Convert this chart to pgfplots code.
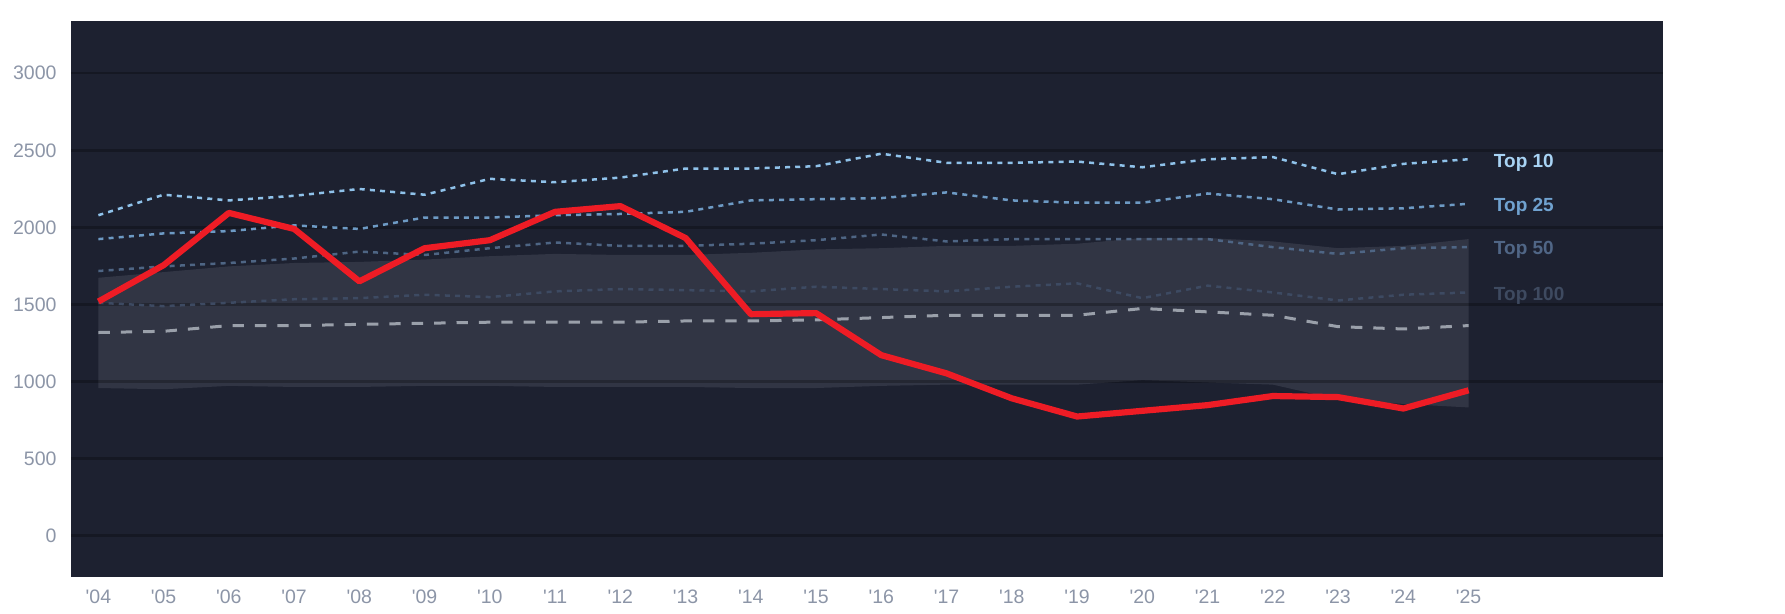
\documentclass[border=0pt]{standalone}
\usepackage{pgfplots}
\pgfplotsset{compat=1.18}
\usepackage{pgfplotstable}
\usepackage{fontspec}
\setmainfont{Liberation Sans}
\definecolor{panel}{HTML}{1D2130}
\definecolor{bandc}{HTML}{313544}
\definecolor{tickc}{HTML}{8C95A7}
\definecolor{redc}{HTML}{EE1C25}
\definecolor{ctena}{HTML}{8FC2EA}
\definecolor{ctwentyfive}{HTML}{6D9AC4}
\definecolor{cfifty}{HTML}{4E6584}
\definecolor{chundred}{HTML}{3D4A62}
\definecolor{medc}{HTML}{9AA0AA}
\definecolor{ltena}{HTML}{A8D3F4}
\definecolor{ltwentyfive}{HTML}{70A2D0}
\definecolor{lfifty}{HTML}{506686}
\definecolor{lhundred}{HTML}{3E4A60}
\newcommand{\q}{\textquotesingle}
\tikzset{
  dotline/.style={line width=1.25pt, dash pattern=on 2.5pt off 2.6pt},
  endlabel/.style={pos=1, anchor=west, xshift=8.75pt, yshift=-1.6pt, font=\fontsize{9.5}{11}\selectfont\bfseries},
}

\pgfplotstableread{
year red  t10  t25  t50  t100 med
2004 1519 2079 1924 1717 1511 1318
2005 1755 2212 1961 1747 1489 1326
2006 2094 2175 1976 1769 1511 1363
2007 1990 2205 2013 1798 1534 1363
2008 1650 2249 1990 1843 1541 1371
2009 1865 2212 2064 1821 1563 1378
2010 1917 2315 2064 1865 1548 1385
2011 2101 2293 2079 1902 1585 1385
2012 2138 2323 2087 1880 1600 1385
2013 1931 2382 2101 1880 1593 1393
2014 1437 2382 2175 1894 1585 1393
2015 1444 2397 2183 1917 1615 1400
2016 1171 2478 2190 1954 1600 1415
2017 1053 2419 2227 1909 1585 1430
2018 891  2419 2175 1924 1615 1430
2019 773  2427 2160 1924 1637 1430
2020 810  2390 2160 1924 1541 1474
2021 847  2442 2220 1924 1622 1452
2022 906  2456 2183 1872 1578 1430
2023 899  2345 2116 1828 1526 1356
2024 825  2412 2124 1865 1563 1341
2025 943  2442 2153 1872 1578 1363
}\data

\begin{document}
\begin{tikzpicture}
\begin{axis}[
  scale only axis,
  width=796pt, height=277.85pt,
  xmin=2003.58, xmax=2027.98,
  ymin=-266, ymax=3339,
  axis background/.style={fill=panel},
  axis line style={draw=none},
  tick style={draw=none},
  ytick={0,500,1000,1500,2000,2500,3000},
  xtick={2004,2005,...,2025},
  xticklabels={\q04,\q05,\q06,\q07,\q08,\q09,\q10,\q11,\q12,\q13,\q14,\q15,\q16,\q17,\q18,\q19,\q20,\q21,\q22,\q23,\q24,\q25},
  /pgf/number format/assume math mode=true,
  /pgf/number format/1000 sep={},
  xticklabel style={text=tickc, font=\fontsize{9.75}{11}\selectfont, yshift=-3.25pt},
  yticklabel style={text=tickc, font=\fontsize{9.75}{11}\selectfont, xshift=-3.7pt},
]
% shaded band: upper edge 2004->2025, then lower edge 2025->2004
\addplot[fill=bandc, draw=none] coordinates {
 (2004,1673) (2005,1710) (2006,1747) (2007,1769) (2008,1776) (2009,1791) (2010,1813)
 (2011,1828) (2012,1821) (2013,1821) (2014,1835) (2015,1857) (2016,1865) (2017,1880)
 (2018,1880) (2019,1894) (2020,1931) (2021,1931) (2022,1909) (2023,1865) (2024,1880) (2025,1924)
 (2025,832) (2024,855) (2023,884) (2022,980) (2021,994) (2020,1009) (2019,980) (2018,980)
 (2017,980) (2016,972) (2015,958) (2014,958) (2013,965) (2012,965) (2011,965) (2010,972)
 (2009,972) (2008,965) (2007,965) (2006,972) (2005,950) (2004,958)
} -- cycle;
% horizontal grid lines, drawn over the band
\pgfplotsinvokeforeach{0,500,1000,1500,2000,2500,3000}{
  \draw[black, opacity=0.25, line width=1.2pt] ({rel axis cs:0,0}|-{axis cs:2010,#1}) -- ({rel axis cs:1,0}|-{axis cs:2010,#1});
}

\addplot[medc, line width=1.5pt, dash pattern=on 5.7pt off 5.5pt] table[x=year, y=med] {\data};
\addplot[chundred, dotline] table[x=year, y=t100] {\data}
  node[endlabel, text=lhundred] {Top 100};
\addplot[cfifty, dotline] table[x=year, y=t50] {\data}
  node[endlabel, text=lfifty] {Top 50};
\addplot[ctwentyfive, dotline] table[x=year, y=t25] {\data}
  node[endlabel, text=ltwentyfive] {Top 25};
\addplot[ctena, dotline] table[x=year, y=t10] {\data}
  node[endlabel, text=ltena] {Top 10};
\addplot[redc, line width=3.1pt, line join=round] table[x=year, y=red] {\data};
\end{axis}
\path (current axis.south west) ++(-35.5pt,-18.65pt) coordinate (A);
\path (current axis.north east) ++(61pt,10.5pt) coordinate (B);
\pgfresetboundingbox
\path[use as bounding box] (A) rectangle (B);
\end{tikzpicture}
\end{document}
